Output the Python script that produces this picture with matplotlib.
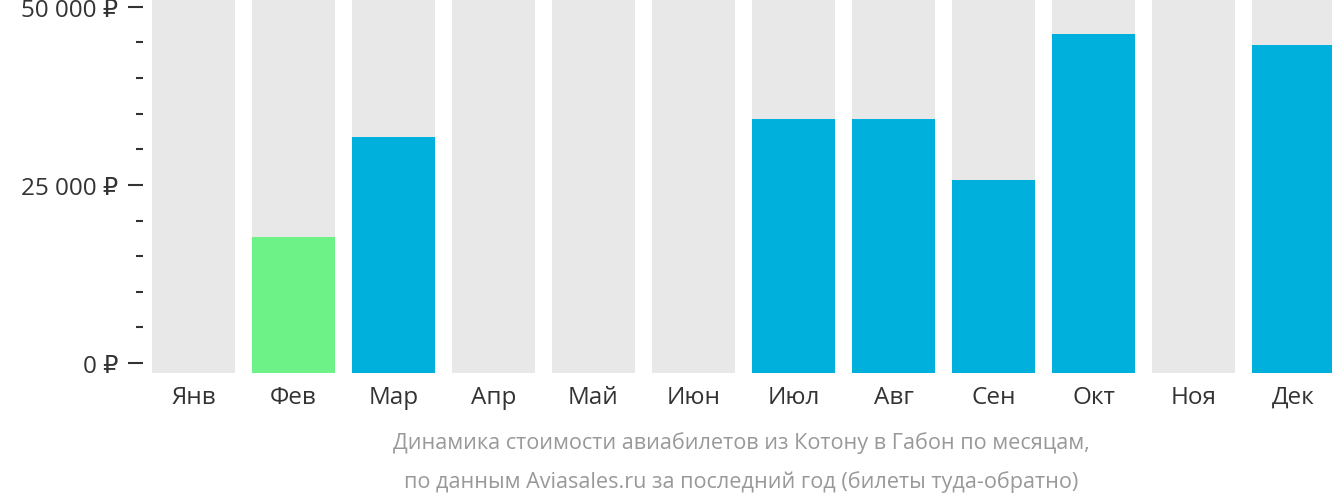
import matplotlib

matplotlib.use("Agg")
import matplotlib.pyplot as plt
from matplotlib.ticker import FixedFormatter, FixedLocator, MultipleLocator

months = ["Янв", "Фев", "Мар", "Апр", "Май", "Июн",
          "Июл", "Авг", "Сен", "Окт", "Ноя", "Дек"]
prices = [None, 17700, 31700, None, None, None,
          34300, 34300, 25700, 46200, None, 44700]
cheapest = "Фев"
y_ticks = [0, 25000, 50000]
y_tick_labels = ["0 ₽", "25 000 ₽", "50 000 ₽"]
caption = ("Динамика стоимости авиабилетов из Котону в Габон по месяцам,\n"
           "по данным Aviasales.ru за последний год (билеты туда-обратно)")

_GRAY = "#e8e8e8"
_BLUE = "#00b0dc"
_GREEN = "#6cf287"
_INK = "#333333"
_SUB = "#999999"

plt.rcParams["font.family"] = ["Open Sans", "DejaVu Sans"]

y_lo, y_hi = -1400, 51100
fig = plt.figure(figsize=(13.32, 5.02), dpi=100)
ax = fig.add_axes([152 / 1332, 1 - 374 / 502, 1180 / 1332, 374 / 502])

x = list(range(len(months)))
w = 0.83
ax.bar(x, y_hi - y_lo, bottom=y_lo, width=w, color=_GRAY, zorder=1)
for i, (m, p) in enumerate(zip(months, prices)):
    if p is None:
        continue
    ax.bar(i, p - y_lo, bottom=y_lo, width=w,
           color=_GREEN if m == cheapest else _BLUE, zorder=2)

ax.set_xlim(-w / 2, -w / 2 + 11.8)
ax.set_ylim(y_lo, y_hi)

ax.set_xticks(x)
ax.set_xticklabels(months)
ax.tick_params(axis="x", length=0, pad=8.5, labelsize=17.5, labelcolor=_INK)

ax.yaxis.set_major_locator(FixedLocator(y_ticks))
ax.yaxis.set_major_formatter(FixedFormatter(y_tick_labels))
ax.yaxis.set_minor_locator(MultipleLocator(5000))
ax.tick_params(axis="y", which="major", length=10.8, width=1.5, color=_INK,
               pad=7, labelsize=17.5, labelcolor=_INK)
ax.tick_params(axis="y", which="minor", length=5, width=1.5, color=_INK)
ax.spines["left"].set_position(("outward", 6.5))
ax.spines["left"].set_color("none")
for s in ("top", "right", "bottom"):
    ax.spines[s].set_visible(False)

fig.text(0.5567, 0.078, caption, ha="center", va="center", fontsize=15.6,
         color=_SUB, linespacing=2.0)

fig.savefig("out.png", dpi=100, facecolor="white")
plt.close(fig)
